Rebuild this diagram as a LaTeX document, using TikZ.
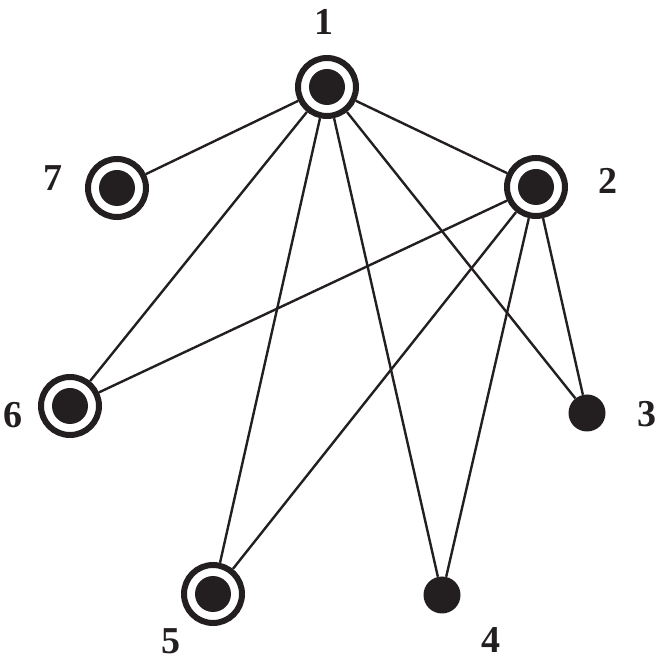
\documentclass[tikz,border=0pt]{standalone}
\usepackage{fontspec}
\setmainfont{Liberation Serif}
\usepackage{tikz}
\definecolor{ink}{RGB}{35,31,32}

\begin{document}
\begin{tikzpicture}[x=1pt, y=1pt,
    ring/.style={circle, draw=ink, line width=6pt, fill=white, minimum size=58pt, inner sep=0pt,
      path picture={\fill[ink] (path picture bounding box.center) circle (18pt);}},
    blob/.style={circle, fill=ink, minimum size=37pt, inner sep=0pt},
    lbl/.style={text=ink, font=\fontsize{38}{38}\selectfont\bfseries},
    edge/.style={draw=ink, line width=2.4pt}]
  \useasboundingbox (0,0) rectangle (660,662);

  % Các đỉnh
  \node[ring] (v1) at (327,575) {};
  \node[ring] (v2) at (536,475) {};
  \node[blob] (v3) at (587,249) {};
  \node[blob] (v4) at (442,67) {};
  \node[ring] (v5) at (213,68) {};
  \node[ring] (v6) at (70,256) {};
  \node[ring] (v7) at (117,474) {};

  % Các cạnh
  \foreach \a/\b in {v1/v7, v1/v2, v1/v6, v1/v5, v1/v4, v1/v3, v2/v6, v2/v5, v2/v4, v2/v3}
    \draw[edge] (\a) -- (\b);

  % Nhãn
  \node[lbl] (n1) at (324,640) {1};
  \node[lbl] (n2) at (608,481) {2};
  \node[lbl] (n3) at (647,248) {3};
  \node[lbl] (n4) at (491,22) {4};
  \node[lbl] (n5) at (171,21) {5};
  \node[lbl] (n6) at (13,247) {6};
  \node[lbl] (n7) at (53,484) {7};
\end{tikzpicture}
\end{document}
